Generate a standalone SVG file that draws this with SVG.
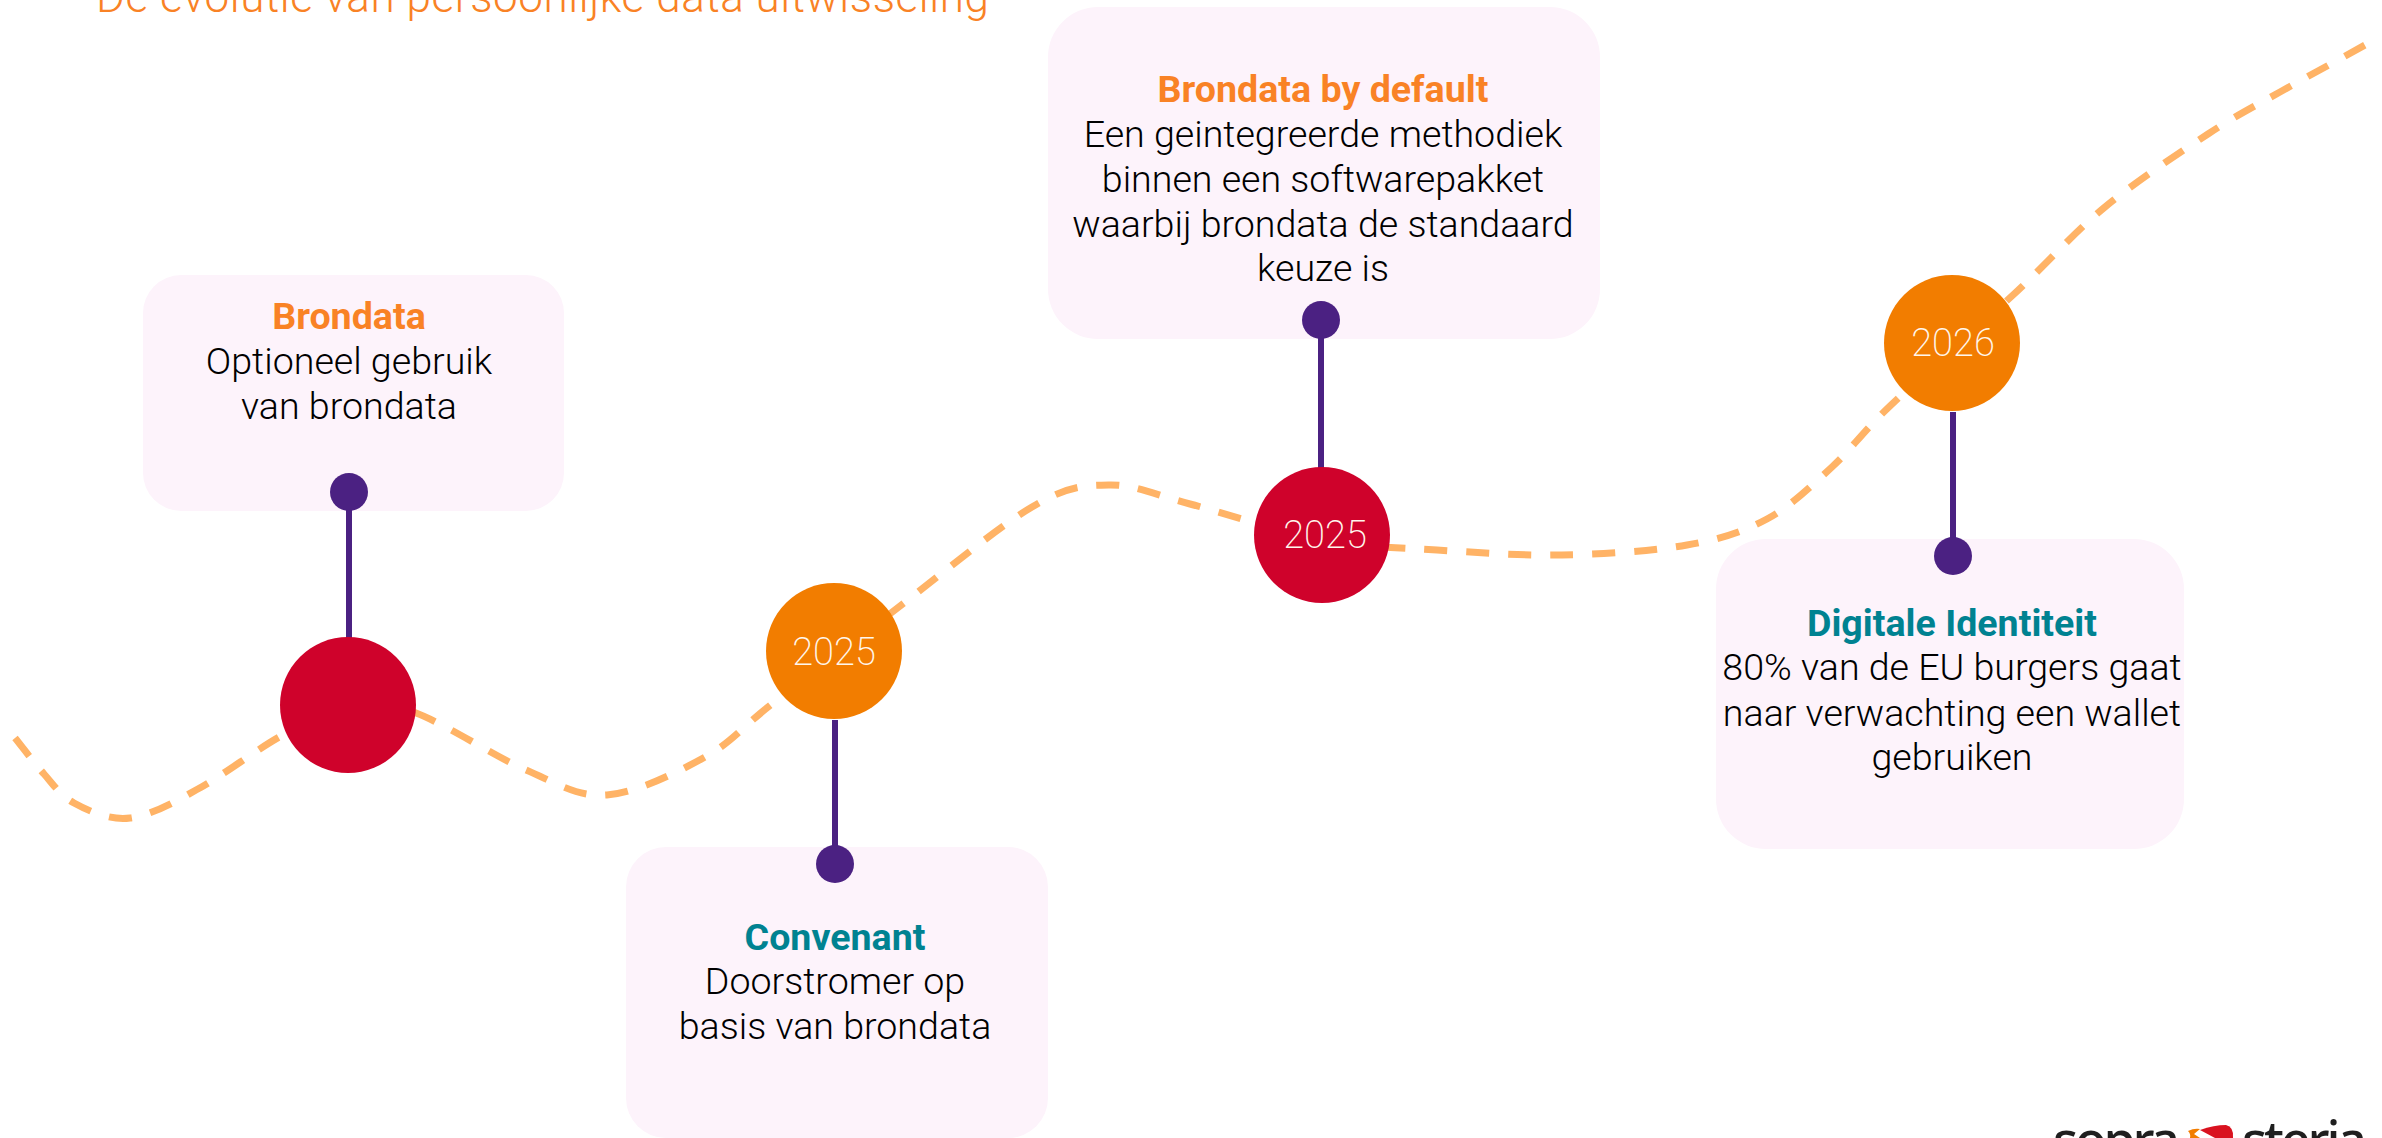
<svg xmlns="http://www.w3.org/2000/svg" width="2382" height="1138" viewBox="0 0 2382 1138">
<style>
text{font-family:Roboto,"Liberation Sans",sans-serif;text-anchor:middle}
.box{fill:#FDF3FB}
.head{font-size:37.6px;font-weight:700}
.o{fill:#F98225}
.t{fill:#008291}
.body{font-size:37.6px;font-weight:300;fill:#000}
.yr{font-size:38px;font-weight:200;fill:#FFF6EC}
.red{fill:#CF022B}
.org{fill:#F27D00}
.dot{fill:#4B2182}
.stem{stroke:#4B2182;stroke-width:6;fill:none}
.curve{stroke:#FFB366;stroke-width:7;stroke-dasharray:23 19;fill:none}
.logo{font-family:"Noto Sans",sans-serif;font-size:52px;font-weight:500;fill:#1F1F1F}
</style>
<rect width="2382" height="1138" fill="#fff"/>
<text id="title" x="96" y="12" style="text-anchor:start;font-size:44px;font-weight:300;fill:#F98225" textLength="893">De evolutie van persoonlijke data uitwisseling</text>
<g id="connectors">
<path class="curve" d="M15 738C19.5 743.3 34.8 763.8 44 774C53.2 784.2 60 795.3 74 803C88 810.7 110 820.8 130 818C150 815.2 172.2 803.7 196 790C221.8 776.3 255.3 750.3 281 736C306.7 721.7 327.5 707.8 350 704C372.5 700.2 386.7 702 416 713C445.3 724 494.2 756.3 526 770C557.8 783.7 577.2 797.2 607 795C636.8 792.8 677.5 772.2 705 757C732.5 741.8 741 728 772 704C803 680 847.7 645.8 891 613C934.3 580.2 995.7 528.3 1032 507C1068.3 485.7 1082.7 485.5 1109 485C1135.3 484.5 1154.5 494.8 1190 504C1225.5 513.2 1280.8 532.3 1322 540C1363.2 547.7 1397 547.5 1437 550C1477 552.5 1520.3 555.8 1562 555C1603.7 554.2 1652.8 551 1687 545C1721.2 539 1742.8 532 1767 519C1791.2 506 1811.5 485.8 1832 467C1852.5 448.2 1859.8 434.7 1890 406C1920.2 377.3 1977.2 328.2 2013 295C2048.8 261.8 2072.5 233.8 2105 207C2137.5 180.2 2178.8 153.2 2208 134C2237.2 114.8 2253.8 106.8 2280 92C2306.2 77.2 2351 53 2365 45"/>
</g>
<g id="node-brondata">
<rect class="box" x="143" y="275" width="421" height="236" rx="38"/>
<text class="head o" x="349" y="329">Brondata</text>
<text class="body" x="349" y="374">Optioneel gebruik</text>
<text class="body" x="349" y="419">van brondata</text>
</g>
<g id="node-convenant">
<rect class="box" x="626" y="847" width="422" height="291" rx="40"/>
<text class="head t" x="835" y="950">Convenant</text>
<text class="body" x="835" y="994">Doorstromer op</text>
<text class="body" x="835" y="1039">basis van brondata</text>
</g>
<g id="node-default">
<rect class="box" x="1048" y="7" width="552" height="332" rx="50"/>
<text class="head o" x="1323" y="102">Brondata by default</text>
<text class="body" x="1323" y="147">Een geintegreerde methodiek</text>
<text class="body" x="1323" y="192">binnen een softwarepakket</text>
<text class="body" x="1323" y="237">waarbij brondata de standaard</text>
<text class="body" x="1323" y="281">keuze is</text>
</g>
<g id="node-identiteit">
<rect class="box" x="1716" y="539" width="468" height="310" rx="50"/>
<text class="head t" x="1952" y="636">Digitale Identiteit</text>
<text class="body" x="1952" y="680">80% van de EU burgers gaat</text>
<text class="body" x="1952" y="726">naar verwachting een wallet</text>
<text class="body" x="1952" y="770">gebruiken</text>
</g>
<g id="stems">
<path class="stem" d="M349 492V640"/>
<path class="stem" d="M835 720V864"/>
<path class="stem" d="M1321 320V470"/>
<path class="stem" d="M1953 412V556"/>
</g>
<g id="pin-1"><circle class="red" cx="348" cy="705" r="68"/><circle class="dot" cx="349" cy="492" r="19"/></g>
<g id="pin-2"><circle class="org" cx="834" cy="651" r="68"/><text class="yr" x="834" y="665">2025</text><circle class="dot" cx="835" cy="864" r="19"/></g>
<g id="pin-3"><circle class="red" cx="1322" cy="535" r="68"/><text class="yr" x="1325" y="548">2025</text><circle class="dot" cx="1321" cy="320" r="19"/></g>
<g id="pin-4"><circle class="org" cx="1952" cy="343" r="68"/><text class="yr" x="1953" y="356">2026</text><circle class="dot" cx="1953" cy="556" r="19"/></g>
<g id="logo">
<text class="logo" x="2053" y="1159" style="text-anchor:start" textLength="127">sopra</text>
<path d="M2188 1131Q2194 1128 2200 1129L2194 1134L2200 1138H2190Q2191 1134 2188 1131Z" fill="#F27D00"/>
<path d="M2200 1130Q2214 1125 2226 1125Q2234 1127 2233 1138H2215Z" fill="#D9121F"/>
<text class="logo" x="2242" y="1159" style="text-anchor:start" textLength="125">steria</text>
</g>
</svg>
